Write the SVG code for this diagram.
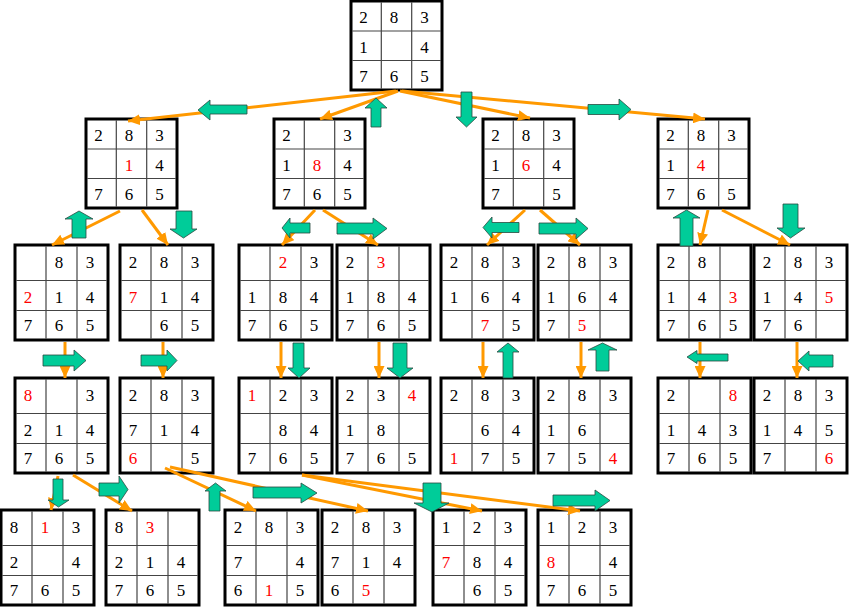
<svg xmlns="http://www.w3.org/2000/svg" xmlns:xlink="http://www.w3.org/1999/xlink" width="850" height="611" viewBox="0 0 850 611">
<style>
text{fill:#000}
text.r{fill:#FF0000}
.bg{fill:#fff;stroke:none}
.bd{fill:none;stroke:#000;stroke-width:3}
.in{fill:none;stroke:#444;stroke-width:1.2}
.ln{stroke:#FF9900;stroke-width:3;fill:none;marker-end:url(#ah)}
.mv{fill:#00CC99;stroke:#2a4a40;stroke-width:0.8}
</style>
<defs>
<marker id="ah" markerUnits="userSpaceOnUse" markerWidth="12" markerHeight="11" refX="12" refY="5.5" orient="auto">
<path d="M0,0 L12,5.5 L0,11 Z" fill="#FF9900"/>
</marker>
<g id="gA"><rect class="bg" width="91" height="89"/><path class="in" d="M30.3 1.5V87.5M60.7 1.5V87.5M1.5 30H89.5M1.5 59.5H89.5"/><rect class="bd" width="91" height="89"/></g>
<g id="gB"><rect class="bg" width="93" height="95"/><path class="in" d="M31 1.5V93.5M62 1.5V93.5M1.5 35.5H91.5M1.5 65.5H91.5"/><rect class="bd" width="93" height="95"/></g>
</defs>
<g id="nodes" font-family="Liberation Serif, serif" font-size="17" text-anchor="middle">
<g id="root" transform="translate(351,1)"><use href="#gA"/>
<text x="12.5" y="22">2</text><text x="43" y="22">8</text><text x="73.5" y="22">3</text>
<text x="12.5" y="52">1</text><text x="73.5" y="52">4</text>
<text x="12.5" y="81">7</text><text x="43" y="81">6</text><text x="73.5" y="81">5</text></g>

<g id="l1a" transform="translate(86,119)"><use href="#gA"/>
<text x="12.5" y="22">2</text><text x="43" y="22">8</text><text x="73.5" y="22">3</text>
<text class="r" x="43" y="52">1</text><text x="73.5" y="52">4</text>
<text x="12.5" y="81">7</text><text x="43" y="81">6</text><text x="73.5" y="81">5</text></g>
<g id="l1b" transform="translate(274,119)"><use href="#gA"/>
<text x="12.5" y="22">2</text><text x="73.5" y="22">3</text>
<text x="12.5" y="52">1</text><text class="r" x="43" y="52">8</text><text x="73.5" y="52">4</text>
<text x="12.5" y="81">7</text><text x="43" y="81">6</text><text x="73.5" y="81">5</text></g>
<g id="l1c" transform="translate(483,119)"><use href="#gA"/>
<text x="12.5" y="22">2</text><text x="43" y="22">8</text><text x="73.5" y="22">3</text>
<text x="12.5" y="52">1</text><text class="r" x="43" y="52">6</text><text x="73.5" y="52">4</text>
<text x="12.5" y="81">7</text><text x="73.5" y="81">5</text></g>
<g id="l1d" transform="translate(658,119)"><use href="#gA"/>
<text x="12.5" y="22">2</text><text x="43" y="22">8</text><text x="73.5" y="22">3</text>
<text x="12.5" y="52">1</text><text class="r" x="43" y="52">4</text>
<text x="12.5" y="81">7</text><text x="43" y="81">6</text><text x="73.5" y="81">5</text></g>

<g id="l2a" transform="translate(15,245)"><use href="#gB"/>
<text x="44" y="22.5">8</text><text x="75" y="22.5">3</text>
<text class="r" x="13" y="58">2</text><text x="44" y="58">1</text><text x="75" y="58">4</text>
<text x="13" y="86">7</text><text x="44" y="86">6</text><text x="75" y="86">5</text></g>
<g id="l2b" transform="translate(120,245)"><use href="#gB"/>
<text x="13" y="22.5">2</text><text x="44" y="22.5">8</text><text x="75" y="22.5">3</text>
<text class="r" x="13" y="58">7</text><text x="44" y="58">1</text><text x="75" y="58">4</text>
<text x="44" y="86">6</text><text x="75" y="86">5</text></g>
<g id="l2c" transform="translate(239,245)"><use href="#gB"/>
<text class="r" x="44" y="22.5">2</text><text x="75" y="22.5">3</text>
<text x="13" y="58">1</text><text x="44" y="58">8</text><text x="75" y="58">4</text>
<text x="13" y="86">7</text><text x="44" y="86">6</text><text x="75" y="86">5</text></g>
<g id="l2d" transform="translate(337,245)"><use href="#gB"/>
<text x="13" y="22.5">2</text><text class="r" x="44" y="22.5">3</text>
<text x="13" y="58">1</text><text x="44" y="58">8</text><text x="75" y="58">4</text>
<text x="13" y="86">7</text><text x="44" y="86">6</text><text x="75" y="86">5</text></g>
<g id="l2e" transform="translate(441,245)"><use href="#gB"/>
<text x="13" y="22.5">2</text><text x="44" y="22.5">8</text><text x="75" y="22.5">3</text>
<text x="13" y="58">1</text><text x="44" y="58">6</text><text x="75" y="58">4</text>
<text class="r" x="44" y="86">7</text><text x="75" y="86">5</text></g>
<g id="l2f" transform="translate(538,245)"><use href="#gB"/>
<text x="13" y="22.5">2</text><text x="44" y="22.5">8</text><text x="75" y="22.5">3</text>
<text x="13" y="58">1</text><text x="44" y="58">6</text><text x="75" y="58">4</text>
<text x="13" y="86">7</text><text class="r" x="44" y="86">5</text></g>
<g id="l2g" transform="translate(658,245)"><use href="#gB"/>
<text x="13" y="22.5">2</text><text x="44" y="22.5">8</text>
<text x="13" y="58">1</text><text x="44" y="58">4</text><text class="r" x="75" y="58">3</text>
<text x="13" y="86">7</text><text x="44" y="86">6</text><text x="75" y="86">5</text></g>
<g id="l2h" transform="translate(754,245)"><use href="#gB"/>
<text x="13" y="22.5">2</text><text x="44" y="22.5">8</text><text x="75" y="22.5">3</text>
<text x="13" y="58">1</text><text x="44" y="58">4</text><text class="r" x="75" y="58">5</text>
<text x="13" y="86">7</text><text x="44" y="86">6</text></g>

<g id="l3a" transform="translate(15,378)"><use href="#gB"/>
<text class="r" x="13" y="22.5">8</text><text x="75" y="22.5">3</text>
<text x="13" y="58">2</text><text x="44" y="58">1</text><text x="75" y="58">4</text>
<text x="13" y="86">7</text><text x="44" y="86">6</text><text x="75" y="86">5</text></g>
<g id="l3b" transform="translate(120,378)"><use href="#gB"/>
<text x="13" y="22.5">2</text><text x="44" y="22.5">8</text><text x="75" y="22.5">3</text>
<text x="13" y="58">7</text><text x="44" y="58">1</text><text x="75" y="58">4</text>
<text class="r" x="13" y="86">6</text><text x="75" y="86">5</text></g>
<g id="l3c" transform="translate(239,378)"><use href="#gB"/>
<text class="r" x="13" y="22.5">1</text><text x="44" y="22.5">2</text><text x="75" y="22.5">3</text>
<text x="44" y="58">8</text><text x="75" y="58">4</text>
<text x="13" y="86">7</text><text x="44" y="86">6</text><text x="75" y="86">5</text></g>
<g id="l3d" transform="translate(337,378)"><use href="#gB"/>
<text x="13" y="22.5">2</text><text x="44" y="22.5">3</text><text class="r" x="75" y="22.5">4</text>
<text x="13" y="58">1</text><text x="44" y="58">8</text>
<text x="13" y="86">7</text><text x="44" y="86">6</text><text x="75" y="86">5</text></g>
<g id="l3e" transform="translate(441,378)"><use href="#gB"/>
<text x="13" y="22.5">2</text><text x="44" y="22.5">8</text><text x="75" y="22.5">3</text>
<text x="44" y="58">6</text><text x="75" y="58">4</text>
<text class="r" x="13" y="86">1</text><text x="44" y="86">7</text><text x="75" y="86">5</text></g>
<g id="l3f" transform="translate(538,378)"><use href="#gB"/>
<text x="13" y="22.5">2</text><text x="44" y="22.5">8</text><text x="75" y="22.5">3</text>
<text x="13" y="58">1</text><text x="44" y="58">6</text>
<text x="13" y="86">7</text><text x="44" y="86">5</text><text class="r" x="75" y="86">4</text></g>
<g id="l3g" transform="translate(658,378)"><use href="#gB"/>
<text x="13" y="22.5">2</text><text class="r" x="75" y="22.5">8</text>
<text x="13" y="58">1</text><text x="44" y="58">4</text><text x="75" y="58">3</text>
<text x="13" y="86">7</text><text x="44" y="86">6</text><text x="75" y="86">5</text></g>
<g id="l3h" transform="translate(754,378)"><use href="#gB"/>
<text x="13" y="22.5">2</text><text x="44" y="22.5">8</text><text x="75" y="22.5">3</text>
<text x="13" y="58">1</text><text x="44" y="58">4</text><text x="75" y="58">5</text>
<text x="13" y="86">7</text><text class="r" x="75" y="86">6</text></g>

<g id="l4a" transform="translate(1,510)"><use href="#gB"/>
<text x="13" y="22.5">8</text><text class="r" x="44" y="22.5">1</text><text x="75" y="22.5">3</text>
<text x="13" y="58">2</text><text x="75" y="58">4</text>
<text x="13" y="86">7</text><text x="44" y="86">6</text><text x="75" y="86">5</text></g>
<g id="l4b" transform="translate(106,510)"><use href="#gB"/>
<text x="13" y="22.5">8</text><text class="r" x="44" y="22.5">3</text>
<text x="13" y="58">2</text><text x="44" y="58">1</text><text x="75" y="58">4</text>
<text x="13" y="86">7</text><text x="44" y="86">6</text><text x="75" y="86">5</text></g>
<g id="l4c" transform="translate(225,510)"><use href="#gB"/>
<text x="13" y="22.5">2</text><text x="44" y="22.5">8</text><text x="75" y="22.5">3</text>
<text x="13" y="58">7</text><text x="75" y="58">4</text>
<text x="13" y="86">6</text><text class="r" x="44" y="86">1</text><text x="75" y="86">5</text></g>
<g id="l4d" transform="translate(322,510)"><use href="#gB"/>
<text x="13" y="22.5">2</text><text x="44" y="22.5">8</text><text x="75" y="22.5">3</text>
<text x="13" y="58">7</text><text x="44" y="58">1</text><text x="75" y="58">4</text>
<text x="13" y="86">6</text><text class="r" x="44" y="86">5</text></g>
<g id="l4e" transform="translate(433,510)"><use href="#gB"/>
<text x="13" y="22.5">1</text><text x="44" y="22.5">2</text><text x="75" y="22.5">3</text>
<text class="r" x="13" y="58">7</text><text x="44" y="58">8</text><text x="75" y="58">4</text>
<text x="44" y="86">6</text><text x="75" y="86">5</text></g>
<g id="l4f" transform="translate(538,510)"><use href="#gB"/>
<text x="13" y="22.5">1</text><text x="44" y="22.5">2</text><text x="75" y="22.5">3</text>
<text class="r" x="13" y="58">8</text><text x="75" y="58">4</text>
<text x="13" y="86">7</text><text x="44" y="86">6</text><text x="75" y="86">5</text></g>
</g>

<g id="connectors">
<line class="ln" x1="396" y1="91" x2="128" y2="121"/>
<line class="ln" x1="398" y1="91" x2="320" y2="119"/>
<line class="ln" x1="400" y1="91" x2="530" y2="118"/>
<line class="ln" x1="402" y1="91" x2="705" y2="119"/>
<line class="ln" x1="120" y1="211" x2="52" y2="245"/>
<line class="ln" x1="142" y1="210" x2="168" y2="245"/>
<line class="ln" x1="315" y1="210" x2="282" y2="245"/>
<line class="ln" x1="323" y1="210" x2="378" y2="245"/>
<line class="ln" x1="525" y1="210" x2="487" y2="245"/>
<line class="ln" x1="540" y1="210" x2="580" y2="245"/>
<line class="ln" x1="708" y1="210" x2="700" y2="245"/>
<line class="ln" x1="722" y1="210" x2="790" y2="245"/>
<line class="ln" x1="65" y1="342" x2="65" y2="378"/>
<line class="ln" x1="163" y1="342" x2="163" y2="378"/>
<line class="ln" x1="281" y1="342" x2="281" y2="378"/>
<line class="ln" x1="379" y1="342" x2="379" y2="378"/>
<line class="ln" x1="483" y1="342" x2="483" y2="378"/>
<line class="ln" x1="581" y1="342" x2="581" y2="378"/>
<line class="ln" x1="700" y1="342" x2="700" y2="378"/>
<line class="ln" x1="797" y1="342" x2="797" y2="378"/>
<line class="ln" x1="58" y1="476" x2="51" y2="510"/>
<line class="ln" x1="73" y1="475" x2="132" y2="511"/>
<line class="ln" x1="165" y1="468" x2="256" y2="511"/>
<line class="ln" x1="170" y1="467" x2="368" y2="511"/>
<line class="ln" x1="302" y1="475" x2="482" y2="511"/>
<line class="ln" x1="302" y1="475" x2="580" y2="511"/>
</g>

<g id="moves">
<polygon class="mv" points="198,110 210,100 210,105 247,105 247,114 210,114 210,120"/>
<polygon class="mv" points="376,98 387,108 381,108 381,127 371,127 371,108 365,108"/>
<polygon class="mv" points="461,92 472,92 472,117 477,117 466.5,127 456,117 461,117"/>
<polygon class="mv" points="588,104.5 619,104.5 619,99 631,109.5 619,120 619,114.5 588,114.5"/>
<polygon class="mv" points="79,211 93,219 86,219 86,238 72,238 72,219 65,219"/>
<polygon class="mv" points="176,211 192,211 192,229 197,229 183.5,238 170,229 176,229"/>
<polygon class="mv" points="282,228 290,218 290,223 310,223 310,233 290,233 290,238"/>
<polygon class="mv" points="337,223 373,223 373,218 387,228.5 373,239 373,234 337,234"/>
<polygon class="mv" points="483,227.5 492,217 492,222.5 519,222.5 519,232.5 492,232.5 492,238"/>
<polygon class="mv" points="539,223 576,223 576,218 588,228.5 576,239 576,234 539,234"/>
<polygon class="mv" points="686.5,210 700,218 693,218 693,246 680,246 680,218 673,218"/>
<polygon class="mv" points="783,204 798,204 798,228 805,228 790.5,238 777,228 783,228"/>
<polygon class="mv" points="43,355 74,355 74,350 86,360.5 74,371 74,366 43,366"/>
<polygon class="mv" points="141,355 167,355 167,350 177,360.5 167,371 167,366 141,366"/>
<polygon class="mv" points="293,343 304,343 304,368 310,368 299,378 288,368 293,368"/>
<polygon class="mv" points="393,343 407,343 407,368 413,368 400,378 387,368 393,368"/>
<polygon class="mv" points="508,343 519,352 513,352 513,378 503,378 503,352 497,352"/>
<polygon class="mv" points="602.5,343 617,350 609,350 609,371 596,371 596,350 588,350"/>
<polygon class="mv" points="687,357 697,350.5 697,354 728,354 728,361 697,361 697,363.5"/>
<polygon class="mv" points="798,361 809,351 809,355 833,355 833,367 809,367 809,371"/>
<polygon class="mv" points="53,479 63,479 63,500 69,500 58.5,507 48,500 53,500"/>
<polygon class="mv" points="99,483 119,483 119,476 128,489.5 119,503 119,496 99,496"/>
<polygon class="mv" points="215.5,483 226,491 220,491 220,511 209,511 209,491 205,491"/>
<polygon class="mv" points="253,487 301,487 301,483 317,493 301,503 301,498 253,498"/>
<polygon class="mv" points="423,483 441,483 441,503 449,503 432,512 414,503 423,503"/>
<polygon class="mv" points="553,495 595,495 595,490 610,500.5 595,511 595,506 553,506"/>
</g>
</svg>
